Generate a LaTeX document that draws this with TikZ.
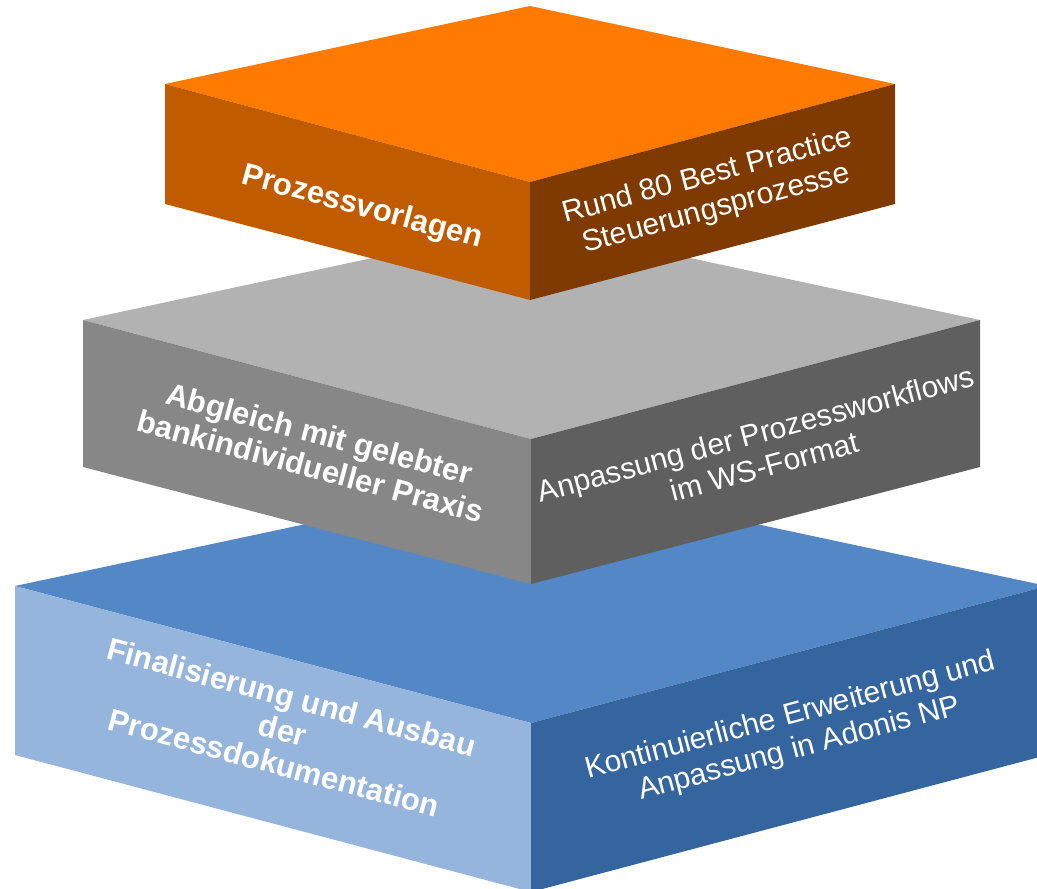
\documentclass[tikz,border=0pt]{standalone}
\usepackage{fontspec}
\setmainfont{Liberation Sans}
\usepackage{tikz}
\definecolor{orangetop}{HTML}{FF7A00}
\definecolor{orangeleft}{HTML}{C05B00}
\definecolor{orangeright}{HTML}{7E3A00}
\definecolor{graytop}{HTML}{B2B2B2}
\definecolor{grayleft}{HTML}{878787}
\definecolor{grayright}{HTML}{5F5F5F}
\definecolor{bluetop}{HTML}{5387C6}
\definecolor{blueleft}{HTML}{96B5DC}
\definecolor{blueright}{HTML}{35659F}
\tikzstyle{boldlabel}=[text=white, font=\bfseries\fontsize{31}{34}\selectfont, align=center, rotate=-15]
\tikzstyle{plainlabel}=[text=white, font=\fontsize{30}{34}\selectfont, align=center, rotate=15]

\begin{document}
\begin{tikzpicture}[x=1pt, y=-1pt]
		   \clip (0,0) rectangle (1037,889);
		   \begin{scope}
			   \coordinate (bl) at (15,586);
			   \coordinate (bb) at (531,476);
			   \coordinate (br) at (1047,586);
			   \coordinate (bf) at (531,723);
			   \coordinate (blb) at (15,755);
			   \coordinate (bfb) at (531,892);
			   \coordinate (brb) at (1047,755);
			   \fill[bluetop] (bl) -- (bb) -- (br) -- (bf) -- cycle;
			   \fill[blueleft] (bl) -- (bf) -- (bfb) -- (blb) -- cycle;
			   \fill[blueright] (bf) -- (br) -- (brb) -- (bfb) -- cycle;
			   \node (blueL) at (283,730)[boldlabel] {Finalisierung und Ausbau\\der\\Prozessdokumentation};
			   \node (blueR) at (795,733)[plainlabel] {Kontinuierliche Erweiterung und\\Anpassung in Adonis NP};
		   \end{scope}
		   \begin{scope}
			   \coordinate (gl) at (83,320);
			   \coordinate (gb) at (531,224);
			   \coordinate (gr) at (980,320);
			   \coordinate (gf) at (531,439);
			   \coordinate (glb) at (83,467);
			   \coordinate (gfb) at (531,584);
			   \coordinate (grb) at (980,467);
			   \fill[graytop] (gl) -- (gb) -- (gr) -- (gf) -- cycle;
			   \fill[grayleft] (gl) -- (gf) -- (gfb) -- (glb) -- cycle;
			   \fill[grayright] (gf) -- (gr) -- (grb) -- (gfb) -- cycle;
			   \node (grayL) at (315,450)[boldlabel] {Abgleich mit gelebter\\bankindividueller Praxis};
			   \node (grayR) at (760,450)[plainlabel] {Anpassung der Prozessworkflows\\im WS-Format};
		   \end{scope}
		   \begin{scope}
			   \coordinate (ol) at (165,84);
			   \coordinate (ob) at (530,6);
			   \coordinate (or) at (895,84);
			   \coordinate (of) at (530,182);
			   \coordinate (olb) at (165,204);
			   \coordinate (ofb) at (530,300);
			   \coordinate (orb) at (895,204);
			   \fill[orangetop] (ol) -- (ob) -- (or) -- (of) -- cycle;
			   \fill[orangeleft] (ol) -- (of) -- (ofb) -- (olb) -- cycle;
			   \fill[orangeright] (of) -- (or) -- (orb) -- (ofb) -- cycle;
			   \node (orangeL) at (362,208)[boldlabel] {Prozessvorlagen};
			   \node (orangeR) at (712,193)[plainlabel] {Rund 80 Best Practice\\Steuerungsprozesse};
		   \end{scope}
	   \end{tikzpicture}
\end{document}
